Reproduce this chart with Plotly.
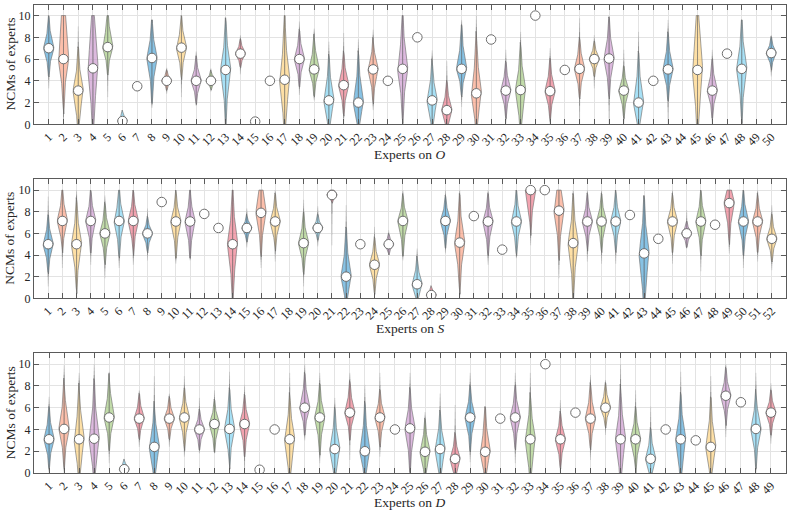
import numpy as np
import plotly.graph_objects as go

# ---------------- data ----------------
# each panel: median, body_lo, body_hi, tail_lo, tail_hi  (None body -> single value)
O_med = [7.0, 6.0, 3.1, 5.15, 7.1, 0.3, 3.5, 6.1, 4.0, 7.05, 4.0, 4.0, 5.0, 6.5, 0.25, 4.0, 4.1, 6.0, 5.05, 2.2,
         3.6, 2.0, 5.05, 4.0, 5.1, 8.0, 2.2, 1.3, 5.1, 2.85, 7.8, 3.1, 3.15, 10.0, 3.05, 5.0, 5.1, 6.0, 6.05, 3.1,
         2.0, 4.0, 5.05, None, 5.0, 3.1, 6.5, 5.1, None, 6.55]
O_blo = [5.15, 2.5, -0.2, -0.2, 5.3, -0.3, None, 3.2, 3.4, 5.0, 2.5, 3.4, 1.3, 5.6, None, None, -0.5, 4.2, 3.3, -0.5,
         1.6, -0.5, 2.85, None, 1.6, None, -0.3, -0.5, 3.3, -0.5, None, 1.3, -0.3, None, 1.15, None, 3.15, 4.85, 3.45, 1.3,
         -0.5, None, 3.0, None, -0.5, 1.3, None, 1.6, None, 5.45]
O_bhi = [9.1, 13.0, 5.9, 11.4, 9.75, 1.0, None, 8.7, 4.7, 9.1, 5.6, 4.7, 8.4, 7.45, None, None, 8.4, 7.9, 7.3, 5.15,
         5.8, 5.3, 7.1, None, 9.0, None, 4.85, 3.2, 7.9, 6.8, None, 5.0, 6.2, None, 5.15, None, 7.15, 7.15, 8.7, 4.7,
         5.3, None, 7.45, None, 11.0, 5.15, None, 8.4, None, 7.6]
O_tlo = [3.3, 0, 0, 0, 2.5, 0, None, 1.5, 2.8, 2.5, 1.7, 3.0, 0, 4.6, None, None, 0, 2.7, 2.2, 0,
         0, 0, 1.3, None, 0, None, 0, 0, 1.6, 0, None, 0, 0, None, 0, None, 0, 3.3, 0, 0,
         0, None, 0, None, 0, 0, None, 0, None, 4.4]
O_thi = [10, 10, 9.0, 10, 10, 1.9, None, 9.6, 5.2, 10, 6.7, 5.2, 9.8, 8.2, None, None, 10, 9.45, 8.8, 7.6,
         8.4, 7.8, 8.7, None, 10, None, 6.8, 5.8, 9.6, 10, None, 6.85, 8.5, None, 7.0, None, 9.75, 8.2, 10, 6.85,
         8.5, None, 9.6, None, 10, 6.85, None, 9.6, None, 8.2]

S_med = [5.0, 7.15, 5.0, 7.15, 6.0, 7.15, 7.15, 6.0, 8.9, 7.1, 7.1, 7.8, 6.5, 5.0, 6.5, 7.9, 7.1, None, 5.1, 6.5,
         9.55, 2.0, 5.0, 3.1, 5.0, 7.15, 1.3, 0.3, 7.15, 5.15, 7.6, 7.1, 4.5, 7.1, 10.0, 10.0, 8.1, 5.1, 7.1, 7.1,
         7.1, 7.7, 4.15, 5.5, 7.1, 6.0, 7.1, 6.8, 8.8, 7.1, 7.1, 5.5]
S_blo = [3.1, 5.1, 1.85, 5.1, 4.0, 4.75, 4.9, 4.75, None, 4.75, 4.75, None, None, 0.9, 5.6, 5.1, 5.2, None, 3.1, 5.7,
         9.0, -0.5, None, 1.2, 4.3, 4.9, -0.3, -0.2, 5.4, 1.85, None, 4.9, None, 4.9, 7.1, None, 4.9, 1.2, 5.2, 5.1,
         5.1, None, -0.5, None, 5.1, 5.1, 4.9, None, 6.15, 4.9, 5.1, 4.0]
S_bhi = [6.9, 9.4, 8.0, 9.2, 8.0, 9.4, 9.2, 7.1, None, 9.1, 9.2, None, None, 8.8, 7.4, 11.5, 8.9, None, 7.1, 7.4,
         10.3, 5.2, None, 4.9, 5.7, 8.9, 3.1, 0.9, 8.8, 8.3, None, 8.9, None, 9.2, 11.0, None, 11.5, 8.3, 8.9, 8.9,
         9.1, None, 8.0, None, 8.9, 6.8, 9.1, None, 11.0, 9.2, 8.9, 7.1]
S_tlo = [1.1, 2.8, 0, 3.1, 1.85, 2.8, 3.1, 3.5, None, 3.2, 3.5, None, None, 0, 4.7, 2.8, 3.4, None, 1.1, 4.8,
         4.9, 0, None, 0, 4.0, 3.5, 0, 0, 4.15, 0, None, 3.1, None, 3.7, 4.9, None, 1.85, 0, 3.4, 3.2,
         3.2, None, 0, None, 3.2, 4.6, 2.5, None, 4.15, 2.8, 3.4, 2.6]
S_thi = [9.4, 10, 10, 10, 9.5, 10, 10, 8.3, None, 10, 10, None, None, 10, 8.3, 10, 10, None, 9.1, 8.5,
         10, 8.6, None, 6.6, 6.3, 10, 4.6, 2.0, 10, 10, None, 10, None, 10, 10, None, 10, 10, 10, 10,
         10, None, 9.5, None, 10, 8.15, 10, None, 10, 10, 10, 8.6]

D_med = [3.1, 4.05, 3.1, 3.15, 5.1, 0.35, 5.0, 2.4, 5.0, 5.1, 4.0, 4.5, 4.05, 4.5, 0.3, 4.0, 3.1, 6.0, 5.1, 2.2,
         5.55, 2.0, 5.1, 4.0, 4.1, 1.95, 2.2, 1.3, 5.1, 1.95, 5.0, 5.1, 3.1, 10.0, 3.1, 5.55, 5.0, 6.0, 3.1, 3.1,
         1.3, 4.0, 3.1, 3.0, 2.4, 7.1, 6.5, 4.05, 5.55]
D_blo = [1.2, 1.5, -0.5, -0.5, 3.0, -0.2, 3.65, -0.5, 3.65, 3.0, 2.7, 2.7, 1.5, 2.4, None, None, -0.5, 4.25, 2.7, -0.5,
         3.8, -0.5, 3.2, None, 1.2, -0.3, -0.5, -0.5, 2.9, -0.5, None, 3.0, -0.5, None, 1.2, None, 3.0, 4.7, -0.5, 0.9,
         -0.5, None, -0.5, None, -0.5, 5.2, None, 1.5, 4.1]
D_bhi = [5.2, 7.3, 6.7, 7.0, 7.9, 1.0, 6.6, 5.3, 6.4, 7.0, 5.3, 6.1, 6.7, 6.4, None, None, 6.1, 8.25, 7.3, 4.9,
         7.6, 5.2, 6.9, None, 6.7, 4.1, 4.7, 3.0, 7.2, 4.9, None, 7.2, 6.1, None, 4.9, None, 7.3, 7.6, 6.6, 5.2,
         3.3, None, 6.1, None, 5.6, 8.9, None, 6.6, 7.0]
D_tlo = [0, 0, 0, 0, 0.9, 0, 2.4, 0, 2.4, 1.5, 1.8, 1.8, 0, 0, None, None, 0, 3.0, 0.9, 0,
         1.2, 0, 1.5, None, 0, 0, 0, 0, 1.0, 0, None, 0.9, 0, None, 0, None, 1.2, 3.5, 0, 0,
         0, None, 0, None, 0, 3.3, None, 0, 2.7]
D_thi = [7.0, 9.9, 9.2, 10, 9.3, 1.8, 7.6, 8.9, 7.3, 8.9, 6.9, 7.6, 9.3, 8.1, None, None, 9.2, 10, 9.2, 6.9,
         9.2, 8.1, 9.2, None, 9.2, 5.6, 7.3, 6.25, 9.2, 6.1, None, 9.2, 9.2, None, 6.7, None, 9.0, 8.55, 10, 7.6,
         6.1, None, 9.3, None, 8.9, 10, None, 9.2, 8.25]

panels = [
    dict(name="O", med=O_med, blo=O_blo, bhi=O_bhi, tlo=O_tlo, thi=O_thi, xmax=51),
    dict(name="S", med=S_med, blo=S_blo, bhi=S_bhi, tlo=S_tlo, thi=S_thi, xmax=53),
    dict(name="D", med=D_med, blo=D_blo, bhi=D_bhi, tlo=D_tlo, thi=D_thi, xmax=50),
]

palette = ["rgba(78,165,215,0.68)", "rgba(250,152,120,0.62)", "rgba(253,205,112,0.62)",
           "rgba(198,142,202,0.62)", "rgba(165,203,130,0.68)", "rgba(115,207,240,0.62)",
           "rgba(236,108,128,0.62)"]

W_PX = 5.3          # half width of violins in pixels
PLOT_W = 795 - 34 - 9
H = 515
FONT = "Liberation Serif"
FADE = [0.85, 0.65, 0.48, 0.34, 0.22]   # opacity levels of the whisker line towards its ends
# vertical extents of the three plot areas in pixels (top, bottom)
boxes = [(4.7, 124.3), (179.3, 298.3), (353.3, 473.0)]

fig = go.Figure()
layout = dict(width=795, height=515, margin=dict(l=34, r=9, t=0, b=0),
              paper_bgcolor="white", plot_bgcolor="white", showlegend=False,
              template="none", font=dict(family=FONT, size=12, color="#262626"))
annotations = []


def profile(ys, m, bl, bh, W):
    d = ys - m
    e = np.where(d > 0, bh - m, m - bl)
    return W * np.exp(-1.8 * (np.abs(d) / e) ** 1.2)


for p_i, P in enumerate(panels):
    sfx = "" if p_i == 0 else str(p_i + 1)
    xa, ya = "x" + sfx, "y" + sfx
    n = len(P["med"])
    W = W_PX / (PLOT_W / P["xmax"])
    polys = {k: ([], []) for k in range(7)}
    lines = {k: ([], []) for k in range(len(FADE))}
    for i in range(n):
        m = P["med"][i]
        if m is None or P["blo"][i] is None:
            continue
        xi = i + 1
        bl, bh, tl, th = P["blo"][i], P["bhi"][i], P["tlo"][i], P["thi"][i]
        lo, hi = max(tl, 0.0), min(th, 10.0)
        ys = np.unique(np.concatenate([np.linspace(lo, hi, 160), [min(max(m, lo), hi)]]))
        w = profile(ys, m, bl, bh, W)
        keep = w > 0.06 * W
        ys_b, w_b = ys[keep], w[keep]
        px = list(xi + w_b) + list(xi - w_b[::-1]) + [xi + w_b[0], None]
        py = list(ys_b) + list(ys_b[::-1]) + [ys_b[0], None]
        c = i % 7
        polys[c][0].extend(px)
        polys[c][1].extend(py)
        # whisker line, fading away from the body
        yb0, yb1 = ys_b[0], ys_b[-1]
        for k in range(len(ys) - 1):
            ymid = 0.5 * (ys[k] + ys[k + 1])
            if yb0 <= ymid <= yb1:
                lev = 0
            else:
                if ymid < yb0:
                    frac = (yb0 - ymid) / max(yb0 - lo, 1e-6)
                else:
                    frac = (ymid - yb1) / max(hi - yb1, 1e-6)
                lev = min(len(FADE) - 1, int(frac * (len(FADE) - 1)) + 1 if frac > 0.25 else 0)
            lines[lev][0].extend([xi, xi, None])
            lines[lev][1].extend([ys[k], ys[k + 1], None])
    for c in range(7):
        if polys[c][0]:
            fig.add_trace(go.Scatter(x=polys[c][0], y=polys[c][1], mode="lines", fill="toself",
                                     fillcolor=palette[c], line=dict(color="rgba(110,110,110,0.8)", width=0.8),
                                     hoverinfo="skip", xaxis=xa, yaxis=ya))
    for lev, (lx, ly) in lines.items():
        if lx:
            fig.add_trace(go.Scatter(x=lx, y=ly, mode="lines",
                                     line=dict(color="rgba(105,105,105,%.2f)" % FADE[lev], width=1.0),
                                     hoverinfo="skip", xaxis=xa, yaxis=ya))
    mx = [i + 1 for i in range(n) if P["med"][i] is not None]
    my = [v for v in P["med"] if v is not None]
    fig.add_trace(go.Scatter(x=mx, y=my, mode="markers",
                             marker=dict(size=9.5, color="white", line=dict(color="#6e6e6e", width=1)),
                             xaxis=xa, yaxis=ya))

    top, bot = boxes[p_i]
    dom = [1 - bot / H, 1 - top / H]
    common = dict(showline=True, linecolor="#5a5a5a", linewidth=1, mirror="ticks", ticks="inside",
                  ticklen=5, tickcolor="#5a5a5a", tickwidth=1, showgrid=True, gridcolor="#e3e3e3",
                  gridwidth=1, zeroline=False, automargin=False,
                  tickfont=dict(family=FONT, size=12, color="#262626"))
    layout["xaxis" + sfx] = dict(common, domain=[0, 1], range=[0, P["xmax"]], anchor=ya,
                                 tickmode="array", tickvals=list(range(1, n + 1)),
                                 ticktext=[str(k) for k in range(1, n + 1)], tickangle=-45)
    layout["yaxis" + sfx] = dict(common, domain=dom, range=[0, 11], anchor=xa,
                                 tickmode="array", tickvals=[0, 2, 4, 6, 8, 10])
    annotations.append(dict(text="Experts on <i>%s</i>" % P["name"], xref="paper", yref="paper",
                            x=0.5, y=1 - (bot + 29.8) / H, xanchor="center", yanchor="middle",
                            showarrow=False, font=dict(family=FONT, size=13.5, color="#262626")))
    annotations.append(dict(text="NCMs of experts", xref="paper", yref="paper",
                            x=(10 - 34) / PLOT_W, y=(dom[0] + dom[1]) / 2, textangle=-90,
                            xanchor="center", yanchor="middle", showarrow=False,
                            font=dict(family=FONT, size=13.5, color="#262626")))

layout["annotations"] = annotations
fig.update_layout(**layout)
fig.write_html("out.html")
